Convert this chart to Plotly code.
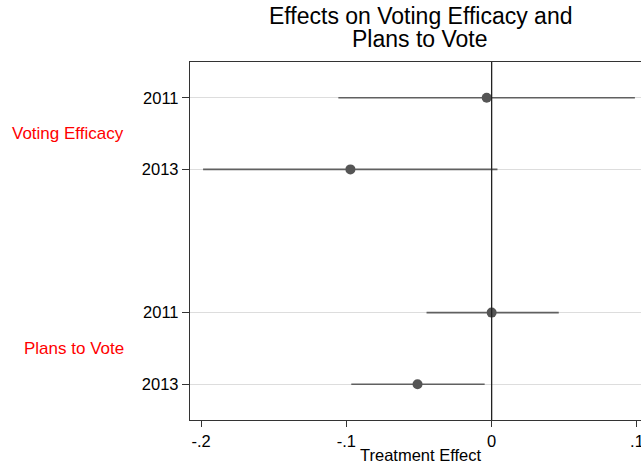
import plotly.graph_objects as go

groups = ["Voting Efficacy", "Voting Efficacy", "Plans to Vote", "Plans to Vote"]
years = ["2011", "2013", "2011", "2013"]
estimates = [-0.0034, -0.0972, 0.0000, -0.0510]
lower = [-0.1055, -0.1986, -0.0448, -0.0966]
upper = [0.0986, 0.0040, 0.0462, -0.0048]
ypos = [0, 1, 3, 4]
group_labels = ["Voting Efficacy", "Plans to Vote"]
group_ypos = [0.5, 3.5]
x_ticks = [-0.2, -0.1, 0, 0.1]
x_ticktext = ["-.2", "-.1", "0", ".1"]

FONT = "Liberation Sans, Arial, sans-serif"

fig = go.Figure()
fig.add_trace(go.Scatter(
    x=estimates, y=ypos, mode="markers",
    marker=dict(color="#555555", size=10),
    error_x=dict(type="data", symmetric=False,
                 array=[u - e for u, e in zip(upper, estimates)],
                 arrayminus=[e - l for e, l in zip(estimates, lower)],
                 width=0, thickness=1.6, color="#606060"),
    showlegend=False, hoverinfo="skip",
))

fig.add_shape(type="line", xref="x", yref="paper", x0=0, x1=0, y0=0, y1=1,
              line=dict(color="#222222", width=1.3))

annotations = []
for lab, yp in zip(group_labels, group_ypos):
    annotations.append(dict(text=lab, xref="paper", yref="y", x=-0.142, y=yp,
                            xanchor="right", yanchor="middle", showarrow=False,
                            font=dict(family=FONT, size=17, color="#ff0000")))
annotations.append(dict(text="Effects on Voting Efficacy and", xref="paper", yref="paper",
                        x=0.51, y=1.129, xanchor="center", yanchor="middle", showarrow=False,
                        font=dict(family=FONT, size=23, color="#000000")))
annotations.append(dict(text="Plans to Vote", xref="paper", yref="paper",
                        x=0.51, y=1.063, xanchor="center", yanchor="middle", showarrow=False,
                        font=dict(family=FONT, size=23, color="#000000")))
annotations.append(dict(text="Treatment Effect", xref="paper", yref="paper",
                        x=0.51, y=-0.098, xanchor="center", yanchor="middle", showarrow=False,
                        font=dict(family=FONT, size=16.5, color="#000000")))

fig.update_layout(
    width=641, height=467,
    margin=dict(l=190, r=0, t=62, b=47, autoexpand=False),
    paper_bgcolor="white", plot_bgcolor="white",
    font=dict(family=FONT, size=16, color="#000000"),
    annotations=annotations,
)
fig.update_xaxes(range=[-0.2076, 0.1028], tickvals=x_ticks, ticktext=x_ticktext,
                 showgrid=False, zeroline=False, showline=True, mirror=True,
                 linecolor="#333333", linewidth=1.3, ticks="outside", ticklen=6,
                 tickcolor="#333333", tickfont=dict(size=16.5),
                 ticklabeloverflow="allow", automargin=False)
fig.update_yaxes(range=[4.5, -0.5], tickvals=ypos, ticktext=years,
                 showgrid=True, gridcolor="#dddddd", gridwidth=1, zeroline=False,
                 showline=True, linecolor="#333333", linewidth=1.3,
                 ticks="outside", ticklen=7, tickcolor="#333333", tickfont=dict(size=16.5),
                 automargin=False)

fig.write_html("out.html")
